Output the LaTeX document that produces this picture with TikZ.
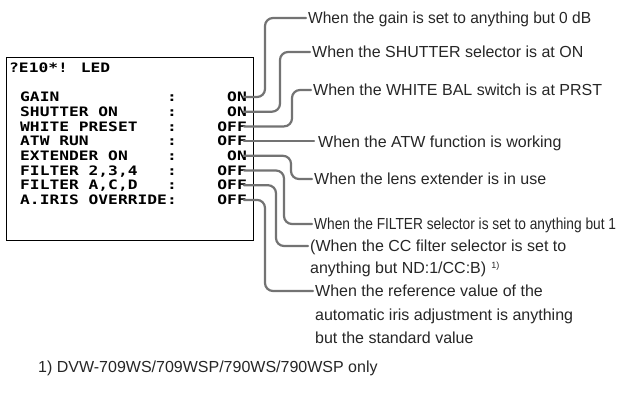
\documentclass[tikz,border=0pt]{standalone}
\usepackage{fontspec}
\setmainfont{Liberation Sans}
\newfontfamily\lcdfont{DejaVu Sans Mono}
\newcommand{\lcd}[1]{\scalebox{1.25}[1]{#1}}
\begin{document}
\begin{tikzpicture}[x=1pt,y=-1pt,
  lcd/.style={anchor=west, inner sep=0pt, text height=9.5pt, text depth=0pt,
    font=\lcdfont\bfseries\fontsize{13}{13}\selectfont, text=black},
  desc/.style={anchor=west, inner sep=0pt, text height=11.5pt, text depth=0pt,
    font=\fontsize{16}{19}\selectfont, text=black!85},
  conn/.style={draw=black!55, line width=2.2pt, rounded corners=8pt, line cap=round},
  panelbox/.style={draw=black, line width=1.2pt, inner sep=0pt, anchor=north west,
    minimum width=247pt, minimum height=183pt}]
\useasboundingbox (0,0) rectangle (619,397);

% LCD panel
\node[panelbox] (panel) at (6,57) {};
\node[lcd] (title) at (9,68) {\lcd{?E10*! LED}};
\foreach \i/\lab/\val in {0/GAIN/ON, 1/SHUTTER ON/ON, 2/WHITE PRESET/OFF,
  3/ATW RUN/OFF, 4/EXTENDER ON/ON, 5/{FILTER 2,3,4}/OFF, 6/{FILTER A,C,D}/OFF,
  7/A.IRIS OVERRIDE/OFF} {
  \node[lcd] (l\i) at (20,{97+14.7*\i}) {\lcd{\lab}};
  \node[lcd, anchor=center] (c\i) at (172,{97+14.7*\i}) {\lcd{:}};
  \node[lcd, anchor=east] (v\i) at (247,{97+14.7*\i}) {\lcd{\val}};
}

% descriptions
\node[desc] (t0) at (308,18) {\scalebox{0.97}[1]{When the gain is set to anything but 0 dB}};
\node[desc] (t1) at (312,52) {When the SHUTTER selector is at ON};
\node[desc] (t2) at (313,90) {When the WHITE BAL switch is at PRST};
\node[desc] (t3) at (318,142) {When the ATW function is working};
\node[desc] (t4) at (314,179) {When the lens extender is in use};
\node[desc] (t5) at (314,224) {\scalebox{0.858}[1]{When the FILTER selector is set to anything but 1}};
\node[desc] (t6) at (310,246) {(When the CC filter selector is set to};
\node[desc] (t6b) at (310,268) {anything but ND:1/CC:B)\hspace{5pt}\raisebox{5pt}{\fontsize{9}{9}\selectfont 1)}};
\node[desc] (t7) at (315,291) {When the reference value of the};
\node[desc] (t7b) at (315,314.5) {automatic iris adjustment is anything};
\node[desc] (t7c) at (315,338) {but the standard value};
\node[desc] (foot) at (38,367) {1) DVW-709WS/709WSP/790WS/790WSP only};

% connectors
\draw[conn] ([xshift=-3pt]v0.east) -- ++(21,0) |- ([xshift=-2pt]t0.west);
\draw[conn] ([xshift=-3pt]v1.east) -- ++(36,0) |- ([xshift=-2pt]t1.west);
\draw[conn] ([xshift=-3pt]v2.east) -- ++(48,0) |- ([xshift=-2pt]t2.west);
\draw[conn] ([xshift=-3pt]v3.east) -- ([xshift=-4pt]t3.west |- v3.east);
\draw[conn] ([xshift=-3pt]v4.east) -- ++(47,0) |- ([xshift=-2pt]t4.west);
\draw[conn] ([xshift=-3pt]v5.east) -- ++(40,0) |- ([xshift=-2pt]t5.west);
\draw[conn] ([xshift=-3pt]v6.east) -- ++(32,0) |- ([xshift=-2pt]t6.west);
\draw[conn] ([xshift=-3pt]v7.east) -- ++(21,0) |- ([xshift=-2pt]t7.west);
\end{tikzpicture}
\end{document}
